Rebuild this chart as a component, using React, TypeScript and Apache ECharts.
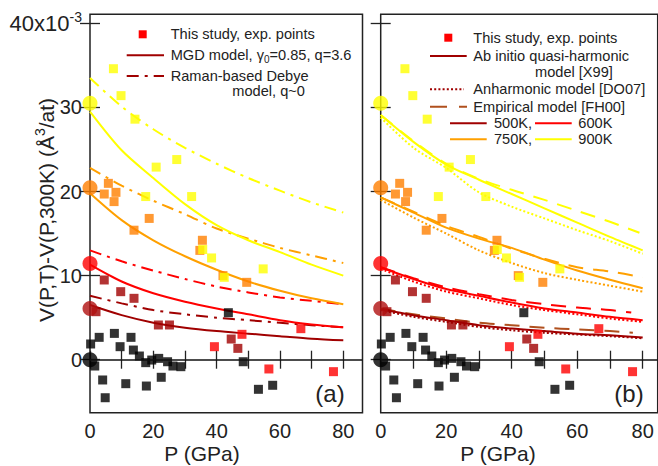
import React, { useEffect, useRef } from 'react';
import * as echarts from 'echarts';

// ---------- data (ΔV in 10^-3 Å^3/at, P in GPa) ----------
const P_GRID = [0, 10, 20, 30, 40, 50, 60, 70, 80];
const X_TICKS = [0, 10, 20, 30, 40, 50, 60, 70, 80];
const X_LABELS = [0, 20, 40, 60, 80];
const Y_TICKS = [0, 10, 20, 30, 40];

// experimental points [P, ΔV]
const exp300K = [[0.2, 1.87], [2.9, 2.66], [7.7, 3.13], [9.5, 1.55], [12.95, 2.66], [13.7, 1.15], [15.6, 0.44], [17.6, -0.35], [19.5, -0.04], [21.7, 0.16], [24.5, -0.24], [26.2, -0.75], [28.7, -0.83], [1.5, -0.75], [4.0, -2.41], [4.8, -4.52], [11.3, -2.85], [17.8, -3.13], [22.5, -2.09], [43.7, 5.59], [48.4, -0.24], [53.2, -3.52], [57.7, -3.04]];
const exp500K = [[1.9, 5.71], [4.5, 9.48], [9.7, 8.09], [13.9, 7.3], [21.6, 4.13], [25.1, 4.13], [44.6, 2.46], [46.7, 1.35]];
const exp600K = [[39.3, 1.55], [48.0, 3.02], [56.5, -1.1], [66.6, 3.69], [76.9, -1.42]];
const exp750K = [[5.8, 20.97], [4.5, 19.7], [8.2, 19.9], [7.6, 18.8], [18.7, 16.8], [13.9, 15.4], [35.5, 14.2], [34.7, 13.0], [42.0, 10.0], [49.5, 9.2]];
const exp900K = [[7.4, 34.6], [9.8, 31.4], [14.2, 28.6], [20.9, 22.9], [27.4, 23.8], [17.6, 19.4], [32.1, 19.4], [35.6, 13.1], [38.4, 12.1], [42.4, 9.8], [54.7, 10.8]];
// zero-pressure values for 300, 500, 600, 750, 900 K
const zeroP = [0, 6.1, 11.45, 20.45, 30.5];

// (a) MGD model (solid) and Raman-based Debye model (dash-dot)
const mgd500 = [6.5, 5.3, 4.4, 3.8, 3.4, 3.1, 2.8, 2.5, 2.3];
const mgd600 = [11.3, 9.3, 7.9, 6.9, 6.1, 5.4, 4.7, 4.2, 3.85];
const mgd750 = [19.8, 16.6, 14.2, 12.3, 10.7, 9.3, 8.2, 7.3, 6.6];
const mgd900 = [29.5, 24.9, 21.6, 18.5, 16.0, 14.2, 12.8, 11.3, 10.0];
const ram500 = [7.6, 6.7, 5.9, 5.4, 5.0, 4.7, 4.4, 4.1, 3.85];
const ram600 = [13.0, 11.7, 10.6, 9.6, 8.7, 8.0, 7.4, 7.0, 6.6];
const ram750 = [22.8, 20.7, 18.9, 17.3, 15.6, 14.4, 13.3, 12.4, 11.5];
const ram900 = [33.5, 30.1, 27.4, 25.2, 23.3, 21.6, 20.1, 18.7, 17.5];

// (b) ab initio (solid), anharmonic (dotted), empirical (dashed)
const abi500 = [6.0, 5.3, 4.7, 4.1, 3.7, 3.4, 3.1, 2.9, 2.65];
const abi600 = [11.0, 9.6, 8.4, 7.6, 6.8, 6.1, 5.6, 5.1, 4.7];
const abi750 = [19.3, 17.5, 15.7, 14.4, 13.3, 11.9, 10.6, 9.5, 8.5];
const abi900 = [29.1, 25.9, 23.2, 21.4, 19.7, 18.0, 16.3, 14.6, 13.0];
const anh500 = [5.9, 5.1, 4.5, 3.9, 3.5, 3.2, 3.0, 2.8, 2.55];
const anh600 = [10.8, 9.3, 8.1, 7.3, 6.5, 5.9, 5.4, 4.9, 4.5];
const anh750 = [19.0, 16.9, 15.0, 13.0, 11.5, 10.3, 9.5, 8.8, 8.1];
const anh900 = [28.8, 25.2, 22.8, 19.9, 18.2, 16.8, 15.4, 14.1, 12.6];
const EMP_P500 = [0, 10, 20, 30, 40, 50, 60, 70, 77];
const EMP_P600 = [0, 10, 20, 30, 40, 50, 60, 70, 76.5];
const EMP_P750 = [0, 10, 20, 30, 40, 50, 60, 70, 80];
const EMP_P900 = [0, 10, 20, 30, 40, 50, 60, 70, 79];
const emp500 = [6.1, 5.4, 4.9, 4.4, 4.1, 3.8, 3.6, 3.4, 3.2];
const emp600 = [11.0, 9.7, 8.6, 7.8, 7.1, 6.6, 6.2, 5.9, 5.6];
const emp750 = [19.3, 17.6, 15.9, 14.6, 13.2, 12.0, 11.0, 10.5, 9.8];
const emp900 = [29.1, 26.0, 23.3, 21.5, 20.2, 19.0, 17.7, 16.4, 15.1];

// ---------- styles ----------
const FONT = '"Liberation Sans", Arial, Helvetica, sans-serif';
const TXT = '#222';
const C300 = '#000000';
const C500 = '#a00000';
const C600 = '#ff0000';
const C750L = '#ffa000';
const C750S = '#ff7f00';
const C900 = '#ffff00';
const CEMP500 = '#b0501e';
const DASHDOT = [12, 6, 3, 6];
const DOTTED = [2, 2.2];
const DASHED = [15, 10];

const pairs = (p: number[], v: number[]) => p.map((x, i) => [x, v[i]]);

function lineS(p: number[], v: number[], color: string, type: any, ax: number) {
  return {
    type: 'line', xAxisIndex: ax, yAxisIndex: ax, data: pairs(p, v), smooth: 0.3,
    showSymbol: false, symbol: 'none', z: 2, silent: true,
    lineStyle: { color, width: 2, type },
  };
}
function sqS(data: number[][], color: string, ax: number, extra: any = {}) {
  return {
    type: 'scatter', xAxisIndex: ax, yAxisIndex: ax, data, symbol: 'rect', symbolSize: 9,
    itemStyle: { color }, z: 3, clip: false, silent: true, ...extra,
  };
}
function circS(ax: number) {
  const cols = [C300, '#b01010', C600, C750S, C900];
  return {
    type: 'scatter', xAxisIndex: ax, yAxisIndex: ax, symbol: 'circle', symbolSize: 15, z: 4, clip: false, silent: true,
    data: zeroP.map((v, i) => ({ value: [0, v], itemStyle: { color: cols[i] } })),
  };
}
const zeroLine = {
  markLine: {
    silent: true, symbol: 'none', label: { show: false },
    lineStyle: { color: '#111', width: 1.5, type: 'solid' },
    data: [{ yAxis: 0 }],
  },
};

function xAx(gridIndex: number, max: number, position: string) {
  return {
    type: 'value', gridIndex, position, min: 0, max,
    axisLine: { show: false }, splitLine: { show: false },
    axisTick: { show: true, inside: true, length: 9, customValues: X_TICKS, lineStyle: { color: '#222', width: 1.3 } },
    axisLabel: { show: position === 'bottom', customValues: X_LABELS, fontSize: 20, color: TXT, fontFamily: FONT, margin: 8 },
  };
}
function yAx(gridIndex: number, position: string, labels: boolean) {
  return {
    type: 'value', gridIndex, position, min: -6.3, max: 41.07,
    axisLine: { show: false }, splitLine: { show: false },
    axisTick: { show: true, inside: true, length: 10, customValues: Y_TICKS, lineStyle: { color: '#222', width: 1.3 } },
    axisLabel: {
      show: labels, customValues: Y_TICKS, fontSize: 20, color: TXT, fontFamily: FONT, margin: 8,
      formatter: (v: number) => (v === 40 ? '{big|40x10}{sup|-3}' : String(v)),
      rich: {
        big: { fontSize: 22, fontFamily: FONT, color: TXT },
        sup: { fontSize: 14, fontFamily: FONT, color: TXT, padding: [0, 0, 13, 0] },
      },
    },
  };
}

const LT = { fontSize: 14.6, fontFamily: FONT, fill: TXT, lineHeight: 14 };
function txt(x: number, y: number, text: string, extra: any = {}) {
  return { type: 'text', x, y, silent: true, style: { text, ...LT, verticalAlign: 'middle', ...extra } };
}
function seg(x1: number, x2: number, y: number, stroke: string, lineDash?: number[]) {
  return { type: 'line', silent: true, shape: { x1, y1: y, x2, y2: y }, style: { stroke, lineWidth: 2, lineDash } };
}
function sq(cx: number, cy: number) {
  return { type: 'rect', silent: true, shape: { x: cx - 4, y: cy - 4, width: 8, height: 8 }, style: { fill: '#ff0000' } };
}

const option: any = {
  animation: false,
  backgroundColor: '#ffffff',
  grid: [
    { left: 90, top: 14.3, width: 272.5, height: 398.4, show: true, borderColor: '#222', borderWidth: 1.5, backgroundColor: 'transparent' },
    { left: 380.7, top: 14.3, width: 277, height: 398.4, show: true, borderColor: '#222', borderWidth: 1.5, backgroundColor: 'transparent' },
  ],
  xAxis: [xAx(0, 86.07, 'bottom'), xAx(0, 86.07, 'top'), xAx(1, 84.58, 'bottom'), xAx(1, 84.58, 'top')],
  yAxis: [yAx(0, 'left', true), yAx(0, 'right', false), yAx(1, 'left', false), yAx(1, 'right', false)],
  series: [
    // panel (a)
    lineS(P_GRID, ram500, C500, DASHDOT, 0),
    lineS(P_GRID, ram600, C600, DASHDOT, 0),
    lineS(P_GRID, ram750, C750L, DASHDOT, 0),
    lineS(P_GRID, ram900, C900, DASHDOT, 0),
    lineS(P_GRID, mgd500, C500, 'solid', 0),
    lineS(P_GRID, mgd600, C600, 'solid', 0),
    lineS(P_GRID, mgd750, C750L, 'solid', 0),
    lineS(P_GRID, mgd900, C900, 'solid', 0),
    sqS(exp300K, C300, 0, zeroLine),
    sqS(exp500K, C500, 0),
    sqS(exp600K, C600, 0),
    sqS(exp750K, C750S, 0),
    sqS(exp900K, C900, 0),
    circS(0),
    // panel (b)
    lineS(EMP_P500, emp500, CEMP500, DASHED, 2),
    lineS(EMP_P600, emp600, C600, DASHED, 2),
    lineS(EMP_P750, emp750, C750L, DASHED, 2),
    lineS(EMP_P900, emp900, C900, DASHED, 2),
    lineS(P_GRID, anh500, C500, DOTTED, 2),
    lineS(P_GRID, anh600, C600, DOTTED, 2),
    lineS(P_GRID, anh750, C750L, DOTTED, 2),
    lineS(P_GRID, anh900, C900, DOTTED, 2),
    lineS(P_GRID, abi500, C500, 'solid', 2),
    lineS(P_GRID, abi600, C600, 'solid', 2),
    lineS(P_GRID, abi750, C750L, 'solid', 2),
    lineS(P_GRID, abi900, C900, 'solid', 2),
    sqS(exp300K, C300, 2, zeroLine),
    sqS(exp500K, C500, 2),
    sqS(exp600K, C600, 2),
    sqS(exp750K, C750S, 2),
    sqS(exp900K, C900, 2),
    circS(2),
  ],
  graphic: [
    // axis names
    {
      type: 'text', x: 46, y: 210, rotation: Math.PI / 2, silent: true,
      style: {
        text: 'V(P,T)-V(P,300K) (Å{sup|3}/at)', fontSize: 21, fontFamily: FONT, fill: TXT,
        align: 'center', verticalAlign: 'middle',
        rich: { sup: { fontSize: 14, fontFamily: FONT, fill: TXT, padding: [0, 0, 12, 0] } },
      },
    },
    { type: 'text', x: 202, y: 453, silent: true, style: { text: 'P (GPa)', fontSize: 21, fontFamily: FONT, fill: TXT, align: 'center', verticalAlign: 'middle', lineHeight: 18 } },
    { type: 'text', x: 498, y: 453, silent: true, style: { text: 'P (GPa)', fontSize: 21, fontFamily: FONT, fill: TXT, align: 'center', verticalAlign: 'middle', lineHeight: 18 } },
    { type: 'text', x: 330, y: 393, silent: true, style: { text: '(a)', fontSize: 24, fontFamily: FONT, fill: TXT, align: 'center', verticalAlign: 'middle' } },
    { type: 'text', x: 629, y: 393, silent: true, style: { text: '(b)', fontSize: 24, fontFamily: FONT, fill: TXT, align: 'center', verticalAlign: 'middle' } },
    // legend (a)
    sq(142.7, 34.3),
    txt(170.7, 34.3, 'This study, exp. points'),
    seg(126.7, 164, 55.3, C500),
    txt(170.7, 55.3, 'MGD model, γ{sub|0}=0.85, q=3.6', { rich: { sub: { fontSize: 10, fontFamily: FONT, fill: TXT, padding: [8, 0, 0, 0] } } }),
    seg(126.7, 164, 76, C500, DASHDOT),
    txt(170.7, 76, 'Raman-based Debye'),
    txt(232.3, 90.5, 'model, q~0'),
    // legend (b)
    sq(448.3, 37.7),
    txt(473.3, 37.7, 'This study, exp. points'),
    seg(430, 466.7, 56, C500),
    txt(473.3, 56, 'Ab initio quasi-harmonic'),
    txt(535, 71.7, 'model [X99]'),
    seg(430, 464, 89.3, C500, DOTTED),
    txt(473.3, 89.3, 'Anharmonic model [DO07]'),
    seg(430, 467, 106.7, CEMP500, [17, 12]),
    txt(473.3, 106.7, 'Empirical model [FH00]'),
    seg(450, 486.7, 123.3, C500),
    txt(494, 123.3, '500K,'),
    seg(535, 571.7, 123.3, C600),
    txt(578.3, 123.3, '600K'),
    seg(450, 486.7, 139.3, C750L),
    txt(494, 139.3, '750K,'),
    seg(535, 571.7, 139.3, C900),
    txt(578.3, 139.3, '900K'),
  ],
};

export default function App() {
  const ref = useRef<HTMLDivElement>(null);
  useEffect(() => {
    document.body.style.margin = '0';
    const chart = echarts.init(ref.current!, null, { renderer: 'svg', width: 658, height: 466 });
    chart.setOption(option);
    return () => chart.dispose();
  }, []);
  return <div ref={ref} style={{ width: 658, height: 466, position: 'fixed', left: 0, top: 0, background: '#fff' }} />;
}
